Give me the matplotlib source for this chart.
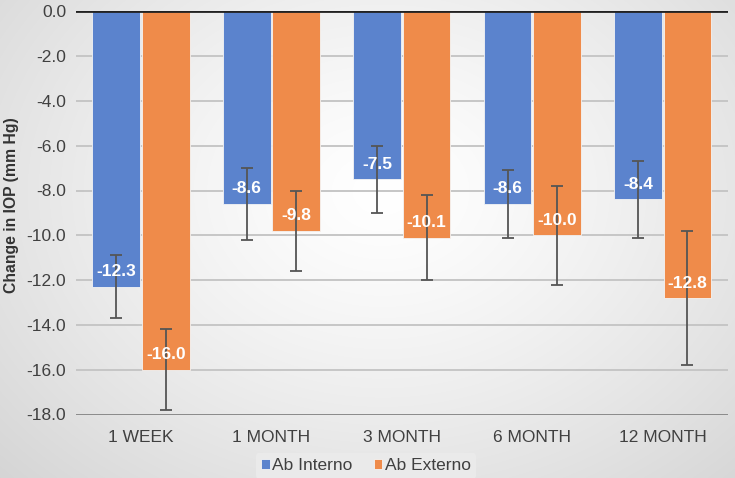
import numpy as np
import matplotlib
matplotlib.use("Agg")
import matplotlib.pyplot as plt

categories = ["1 WEEK", "1 MONTH", "3 MONTH", "6 MONTH", "12 MONTH"]
interno = [-12.3, -8.6, -7.5, -8.6, -8.4]
externo = [-16.0, -9.8, -10.1, -10.0, -12.8]
interno_err = [1.4, 1.6, 1.5, 1.5, 1.7]
externo_err = [1.8, 1.8, 1.9, 2.2, 3.0]
yticks = [0, -2, -4, -6, -8, -10, -12, -14, -16, -18]

plt.rcParams['font.family'] = ['Liberation Sans', 'DejaVu Sans']

W, H = 735, 478
fig = plt.figure(figsize=(W / 100, H / 100), dpi=100)

# radial gradient background
bg = fig.add_axes([0, 0, 1, 1], zorder=-10)
yy, xx = np.mgrid[0:H, 0:W]
cx, cy = W * 0.52, H * 0.40
r = np.sqrt(((xx - cx) / (W * 0.60)) ** 2 + ((yy - cy) / (H * 0.72)) ** 2)
r = np.clip(r, 0, 1.2)
val = 1.0 - 0.13 * r ** 1.3
val = np.clip(val, 0, 1)
img = np.dstack([val, val, val])
bg.imshow(img, aspect='auto', extent=[0, 1, 0, 1], interpolation='bilinear')
bg.axis('off')

ax = fig.add_axes([75.8 / W, 1 - 414.5 / H, (728 - 75.8) / W, (414.5 - 11.3) / H])
ax.set_facecolor('none')

x = np.arange(len(categories))
bw = 0.366
off = bw / 2 + 0.0065
blue = '#5b83cd'
orange = '#ef8b4a'

b1 = ax.bar(x - off, interno, bw, color=blue, edgecolor='#f4f4f4', linewidth=0.6, zorder=3, label='Ab Interno')
b2 = ax.bar(x + off, externo, bw, color=orange, edgecolor='#f4f4f4', linewidth=0.6, zorder=3, label='Ab Externo')

ax.errorbar(x - off, interno, yerr=interno_err, fmt='none', ecolor='#555555', elinewidth=1.3, capsize=4.5, capthick=1.3, zorder=5)
ax.errorbar(x + off, externo, yerr=externo_err, fmt='none', ecolor='#555555', elinewidth=1.3, capsize=4.5, capthick=1.3, zorder=5)

for xs, vals in ((x - off, interno), (x + off, externo)):
    for xi, v in zip(xs, vals):
        ax.annotate(f"{v:.1f}", (xi, v), xytext=(0, 15), textcoords='offset pixels',
                    ha='center', va='center', color='white', fontsize=12.5, fontweight='bold', zorder=6)

ax.set_ylim(-18, 0)
ax.set_xlim(-0.5, len(categories) - 0.5)
ax.set_yticks(yticks)
ax.set_yticklabels([f"{t:.1f}" for t in yticks])
ax.set_xticks(x)
ax.set_xticklabels(categories)
ax.tick_params(axis='both', length=0, labelsize=12.5, colors='#404040')
ax.tick_params(axis='y', pad=7)
ax.tick_params(axis='x', pad=11)
for t in yticks:
    if t not in (0, -18):
        ax.axhline(t, color='#c6c6c6', linewidth=1.4, zorder=1)
for s in ax.spines.values():
    s.set_visible(False)
ax.axhline(0, color='#222222', linewidth=2, zorder=4)
ax.axhline(-18, color='#8a8a8a', linewidth=1.4, zorder=1)

fig.text(11.5 / W, 1 - 205 / H, "Change in IOP (mm Hg)", rotation=90, ha='center', va='center',
         fontsize=11.3, fontweight='bold', color='#333333')

leg = fig.legend(handles=[b1, b2], loc='center', bbox_to_anchor=(366 / W, 1 - 466 / H), ncol=2,
                 frameon=True, fontsize=12.5, handlelength=0.5, handleheight=0.5, handletextpad=0.15,
                 columnspacing=1.2, borderpad=0.3)
leg.get_frame().set_facecolor('#ececec')
leg.get_frame().set_edgecolor('none')
leg.get_frame().set_alpha(0.8)
for t in leg.get_texts():
    t.set_color('#404040')

fig.savefig('out.png', dpi=100)
